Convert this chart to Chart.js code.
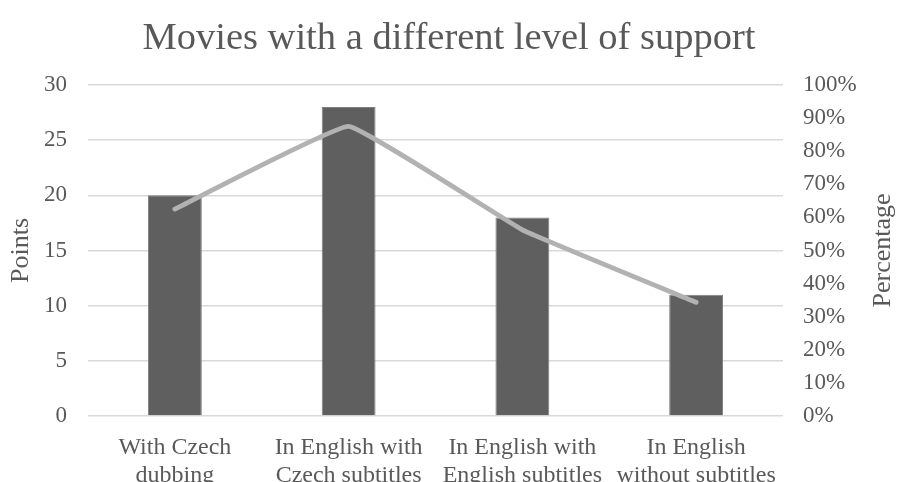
<!DOCTYPE html>
<html>
<head>
  <title>Movies with a different level of support</title>
  <style>
    body { margin: 0; background: #fff; }
  </style>
</head>
<body>
  <canvas id="canvas" width="898" height="482"></canvas>
  <script src="https://cdn.jsdelivr.net/npm/chart.js"></script>
  <script>
    var categories = [
      ['With Czech', 'dubbing'],
      ['In English with', 'Czech subtitles'],
      ['In English with', 'English subtitles'],
      ['In English', 'without subtitles']
    ];
    var points = [20, 28, 18, 11];
    var percentage = [0.625, 0.875, 0.5625, 0.34375];

    var textColor = '#595959';
    var serif = "'Liberation Serif', 'Times New Roman', serif";

    // right axis title reads bottom-to-top, Chart.js would rotate it the other way
    var rightTitle = {
      id: 'rightTitle',
      afterDraw: function(chart) {
        var s = chart.scales.y2;
        var ctx = chart.ctx;
        ctx.save();
        ctx.translate(s.right - 15, (chart.chartArea.top + chart.chartArea.bottom) / 2);
        ctx.rotate(-Math.PI / 2);
        ctx.font = '26px ' + serif;
        ctx.fillStyle = textColor;
        ctx.textAlign = 'center';
        ctx.textBaseline = 'middle';
        ctx.fillText('Percentage', 0, 0);
        ctx.restore();
      }
    };

    var config = {
      type: 'bar',
      data: {
        labels: categories,
        datasets: [{
          type: 'line',
          label: 'Percentage',
          data: percentage,
          yAxisID: 'y2',
          borderColor: '#b2b2b2',
          borderWidth: 4.8,
          borderCapStyle: 'round',
          borderJoinStyle: 'round',
          tension: 0.08,
          pointRadius: 0,
          fill: false,
          order: 1
        }, {
          type: 'bar',
          label: 'Points',
          data: points,
          yAxisID: 'y',
          backgroundColor: '#5f5f5f',
          borderColor: '#7f7f7f',
          borderWidth: 1,
          categoryPercentage: 1,
          barPercentage: 0.31,
          order: 2
        }]
      },
      options: {
        responsive: false,
        animation: false,
        layout: { padding: 0 },
        plugins: {
          legend: { display: false },
          tooltip: { enabled: false },
          title: {
            display: true,
            text: 'Movies with a different level of support',
            color: textColor,
            font: { family: serif, size: 38.5, weight: 'normal', lineHeight: 1 },
            padding: { top: 20, bottom: 26.5 }
          }
        },
        scales: {
          x: {
            grid: { display: false },
            border: { display: false },
            ticks: {
              color: textColor,
              font: { family: serif, size: 24, lineHeight: 1.15 },
              padding: 10,
              maxRotation: 0,
              autoSkip: false
            },
            afterFit: function(s) { s.height = 66; }
          },
          y: {
            position: 'left',
            min: 0,
            max: 30,
            ticks: {
              stepSize: 5,
              color: textColor,
              font: { family: serif, size: 23 },
              padding: 21
            },
            grid: { color: '#d9d9d9', lineWidth: 1.5, drawTicks: false },
            border: { display: false },
            title: {
              display: true,
              text: 'Points',
              color: textColor,
              font: { family: serif, size: 26, lineHeight: 1.2 },
              padding: { top: 6, bottom: 0 }
            },
            afterFit: function(s) { s.width = 88; }
          },
          y2: {
            position: 'right',
            min: 0,
            max: 1,
            ticks: {
              stepSize: 0.1,
              color: textColor,
              font: { family: serif, size: 23 },
              padding: 20,
              callback: function(v) { return Math.round(v * 100) + '%'; }
            },
            grid: { display: false, drawTicks: false },
            border: { display: false },
            afterFit: function(s) { s.width = 115; }
          }
        }
      },
      plugins: [rightTitle]
    };

    var ctx = document.getElementById('canvas').getContext('2d');
    window.myChart = new Chart(ctx, config);
  </script>
</body>
</html>
